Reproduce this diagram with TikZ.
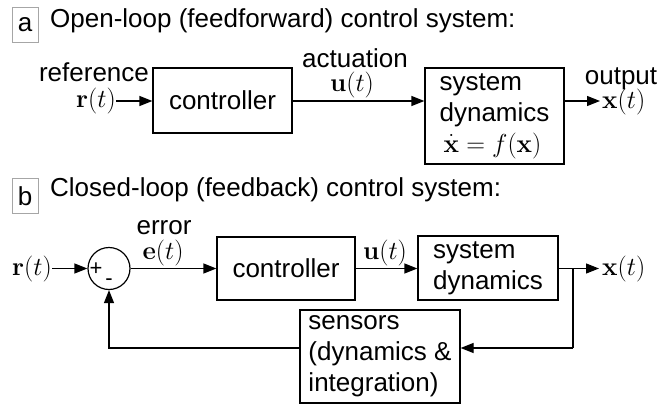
\RequirePackage{fix-cm}
\documentclass[tikz,border=0pt]{standalone}
\usepackage[no-math]{fontspec}
\setmainfont{Liberation Sans}
\usetikzlibrary{arrows.meta,calc}
\tikzset{
    block/.style={draw, line width=1.2pt, align=left, inner sep=0pt},
    tag/.style={draw=gray!70, line width=0.7pt, minimum width=26pt, minimum height=35pt, inner sep=0pt},
    sig/.style={line width=1.2pt, -{Triangle[length=13pt,width=10pt]}},
    wire/.style={line width=1.2pt},
    small/.style={font=\fontsize{22}{22}\selectfont},
  }
\begin{document}
\begin{tikzpicture}[x=1pt,y=-1pt,inner sep=0pt,font=\fontsize{26}{31}\selectfont]
  \useasboundingbox (0,0) rectangle (661,405);
  %open loop
  \node[tag] (taga) at (25,25) {a};
  \node[anchor=base west] (titlea) at (50,27) {Open-loop (feedforward) control system:};
  \node[block, minimum width=139pt, minimum height=65pt] (ctrla) at (222.5,100.5) {controller};
  \node[block, minimum width=139pt, minimum height=96pt] (sysa) at (494.5,116) {system\\dynamics\\\hspace{4pt}$\dot{\mathbf{x}}=f(\mathbf{x})$};
  \node[anchor=base] (refa) at (94,81) {reference};
  \node[anchor=base east] (ra) at (116,107.5) {$\mathbf{r}(t)$};
  \node[anchor=base] (acta) at (355,67) {actuation};
  \node[anchor=base] (ua) at (352,91) {$\mathbf{u}(t)$};
  \node[anchor=base] (outa) at (621,84) {output};
  \node[anchor=base west] (xa) at (602,108) {$\mathbf{x}(t)$};
  \draw[sig] (ra.east) -- (ra.east -| ctrla.west);
  \draw[sig] (ctrla.east |- ra.east) -- (ra.east -| sysa.west);
  \draw[sig,shorten >=2pt] (ra.east -| sysa.east) -- (ra.east -| xa.west);
  %closed loop
  \node[tag] (tagb) at (25,196) {b};
  \node[anchor=base west] (titleb) at (50,196) {Closed-loop (feedback) control system:};
  \node[draw, circle, line width=1.2pt, minimum size=42pt] (sum) at (109,268.5) {};
  \node[small] (plus) at (96,269) {+};
  \node[small] (minus) at (109,282) {-};
  \node[anchor=base east] (rb) at (52,275) {$\mathbf{r}(t)$};
  \node[anchor=base] (err) at (164,234) {error};
  \node[anchor=base] (eb) at (163,259) {$\mathbf{e}(t)$};
  \node[block, minimum width=138pt, minimum height=63pt] (ctrlb) at (286,268.5) {controller};
  \node[anchor=base] (ub) at (385,259) {$\mathbf{u}(t)$};
  \node[block, minimum width=140pt, minimum height=64pt] (sysb) at (488,268) {system\\dynamics};
  \node[anchor=base west] (xb) at (602,275) {$\mathbf{x}(t)$};
  \node[block, minimum width=160pt, minimum height=93pt] (sens) at (380,356.5) {sensors\\(dynamics \&\\integration)};
  \coordinate (br) at (573,268.5);
  \coordinate (fb) at (573,348);
  \coordinate (xout) at (599,268.5);
  \draw[sig] (sum.west -| rb.east) -- (sum.west);
  \draw[sig] (sum.east) -- (sum.east -| ctrlb.west);
  \draw[sig] (ctrlb.east |- sum.east) -- (sum.east -| sysb.west);
  \draw[sig] (sum.east -| sysb.east) -- (xout);
  \draw[wire] (br) -- (fb);
  \draw[sig] (fb) -- (fb -| sens.east);
  \draw[sig] (fb -| sens.west) -| (sum.south);
\end{tikzpicture}
\end{document}
